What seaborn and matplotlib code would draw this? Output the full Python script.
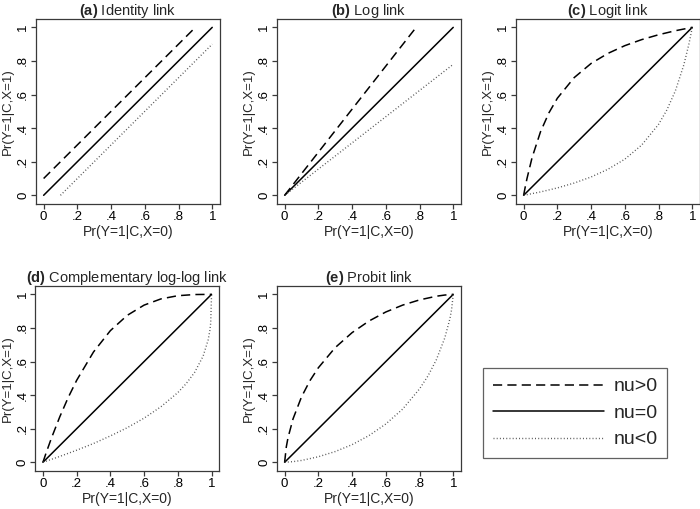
import matplotlib
matplotlib.use("Agg")
import matplotlib.pyplot as plt
import seaborn as sns
from matplotlib.lines import Line2D

# values (x = Pr(Y=1|C,X=0), y = Pr(Y=1|C,X=1))
null_x = [0.0, 1.0]
null_y = [0.0, 1.0]

identity_pos_x = [0.0, 0.9]
identity_pos_y = [0.1, 1.0]
identity_neg_x = [0.1, 1.0]
identity_neg_y = [0.0, 0.9]

log_pos_x = [0.0, 0.78]
log_pos_y = [0.0, 1.0]
log_neg_x = [0.0, 1.0]
log_neg_y = [0.0, 0.78]

logit_pos_x = [0, .01, .02, .05, .1, .15, .2, .3, .4, .5, .6, .7, .8, .9, 1]
logit_pos_y = [0, .052, .100, .224, .378, .491, .578, .701, .785, .845, .891, .927, .956, .980, 1]
logit_neg_x = [0, .1, .2, .3, .4, .5, .6, .7, .8, .85, .9, .95, .98, .99, 1]
logit_neg_y = [0, .020, .044, .073, .109, .155, .215, .299, .422, .509, .622, .776, .900, .948, 1]

cloglog_pos_x = [0, .02, .05, .1, .15, .2, .3, .4, .5, .6, .7, .8, .9, 1]
cloglog_pos_y = [0, .059, .143, .271, .386, .488, .657, .784, .875, .936, .973, .992, .999, 1]
cloglog_neg_x = [0, .1, .2, .3, .4, .5, .6, .7, .8, .85, .9, .95, .98, .99, .995, 1]
cloglog_neg_y = [0, .035, .072, .112, .157, .206, .263, .331, .415, .469, .536, .632, .729, .785, .829, 1]

probit_pos_x = [0, .01, .02, .05, .1, .15, .2, .3, .4, .5, .6, .7, .8, .9, .95, 1]
probit_pos_y = [0, .092, .146, .259, .389, .486, .563, .683, .772, .841, .895, .936, .967, .989, .996, 1]
probit_neg_x = [0, .05, .1, .2, .3, .4, .5, .6, .7, .8, .85, .9, .95, .98, .99, 1]
probit_neg_y = [0, .004, .011, .033, .064, .105, .159, .228, .317, .437, .514, .611, .741, .854, .908, 1]

tick_values = [0, 0.2, 0.4, 0.6, 0.8, 1]
tick_labels = ["0", ".2", ".4", ".6", ".8", "1"]
legend_labels = ["nu>0", "nu=0", "nu<0"]

panels = [
    ("(a)", "Identity link", identity_pos_x, identity_pos_y, identity_neg_x, identity_neg_y),
    ("(b)", "Log link", log_pos_x, log_pos_y, log_neg_x, log_neg_y),
    ("(c)", "Logit link", logit_pos_x, logit_pos_y, logit_neg_x, logit_neg_y),
    ("(d)", "Complementary log-log link", cloglog_pos_x, cloglog_pos_y, cloglog_neg_x, cloglog_neg_y),
    ("(e)", "Probit link", probit_pos_x, probit_pos_y, probit_neg_x, probit_neg_y),
]

sns.set_theme(style="white")
plt.rcParams["font.family"] = ["Liberation Sans", "DejaVu Sans"]
plt.rcParams["mathtext.fontset"] = "custom"
plt.rcParams["mathtext.rm"] = "Liberation Sans"
plt.rcParams["mathtext.bf"] = "Liberation Sans:bold"

W, H = 700, 509
fig = plt.figure(figsize=(7, 5.09), dpi=100)

# axes boxes in pixels: left edge, bottom edge (measured from top)
boxes = [(35.7, 203.7), (276.7, 203.7), (515.7, 203.7), (35.0, 470.7), (276.7, 470.7)]
bw, bh = 184.3, 184.4

dash_style = (0, (6.0, 3.4))
dot_style = (0, (0.7, 1.6))
spine_col = "#3a3a3a"

for i, (tag, name, px, py, nx, ny) in enumerate(panels):
    left, bottom = boxes[i]
    ax = fig.add_axes([left / W, (H - bottom) / H, bw / W, bh / H])

    sns.lineplot(x=px, y=py, ax=ax, color="black", linewidth=1.1, linestyle=dash_style)
    sns.lineplot(x=null_x, y=null_y, ax=ax, color="black", linewidth=1.1)
    sns.lineplot(x=nx, y=ny, ax=ax, color="#555555", linewidth=1.0, linestyle=dot_style)

    ax.set_xlim(-0.047, 1.046)
    ax.set_ylim(-0.05, 1.048)
    ax.set_xticks(tick_values)
    ax.set_xticklabels(tick_labels)
    ax.set_yticks(tick_values)
    ax.set_yticklabels(tick_labels, rotation=90, va="center")
    ax.tick_params(axis="both", direction="out", length=3.5, width=0.9,
                   color=spine_col, labelsize=9.5, labelcolor="black",
                   bottom=True, left=True)
    ax.tick_params(axis="x", pad=1.5)
    ax.tick_params(axis="y", pad=1.2)
    for sp in ax.spines.values():
        sp.set_color(spine_col)
        sp.set_linewidth(0.9)

    ax.set_xlabel("Pr(Y=1|C,X=0)", fontsize=10)
    ax.set_ylabel("Pr(Y=1|C,X=1)", fontsize=9.5)
    ax.xaxis.set_label_coords(0.5, -0.117)
    ax.yaxis.set_label_coords(-21.4 / bw, 0.5)
    ax.set_title(r"$\mathbf{" + tag + "}$ " + name, fontsize=10.5, pad=3.2)

handles = [
    Line2D([], [], color="black", linewidth=1.1, linestyle=dash_style),
    Line2D([], [], color="black", linewidth=1.1),
    Line2D([], [], color="#555555", linewidth=1.0, linestyle=dot_style),
]
leg = fig.legend(handles, legend_labels, loc="upper left",
                 bbox_to_anchor=(483 / W, 1 - 368 / H), borderaxespad=0,
                 fontsize=14, frameon=True, fancybox=False, edgecolor=spine_col,
                 handlelength=5.7, handletextpad=0.5, labelspacing=0.46,
                 borderpad=0.5)
leg.get_frame().set_linewidth(0.9)

fig.savefig("out.png", dpi=100)
